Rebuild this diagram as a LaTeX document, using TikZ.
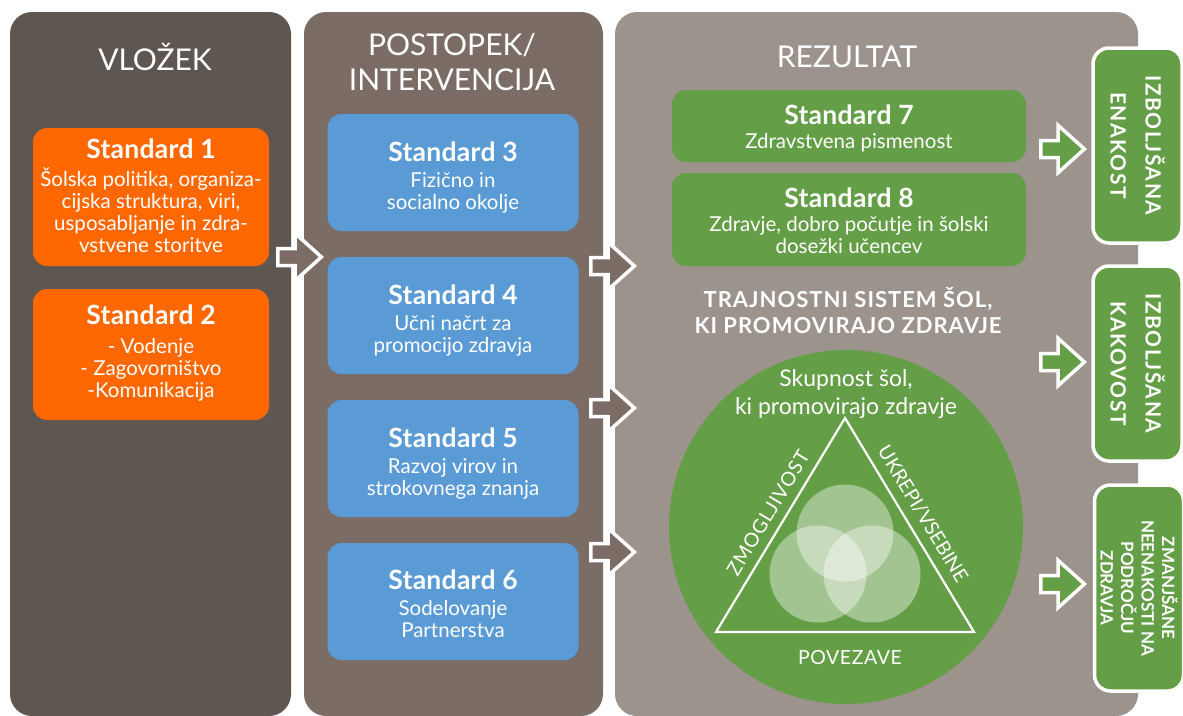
\documentclass[tikz,border=0pt]{standalone}
\usepackage{fontspec}
\setmainfont{Lato}
\usetikzlibrary{shapes.arrows}

\definecolor{panelA}{RGB}{94,86,81}
\definecolor{panelB}{RGB}{123,108,101}
\definecolor{panelC}{RGB}{156,147,141}
\definecolor{stdorange}{RGB}{255,104,0}
\definecolor{stdblue}{RGB}{91,155,213}
\definecolor{stdgreen}{RGB}{100,158,70}

\newcommand\boxhead[1]{{\fontsize{26.5}{28}\selectfont\bfseries\addfontfeatures{LetterSpace=1}#1}}

\tikzset{
  panel/.style={rounded corners=22pt, inner sep=0pt, draw=none},
  coltitle/.style={text=white, font=\fontsize{30}{36}\selectfont, align=center},
  stdbox/.style={rounded corners=14pt, inner sep=0pt},
  boxtext/.style={text=white, align=center, inner sep=0pt,
    font=\fontsize{20.5}{22}\selectfont},
  blockarr/.style={single arrow, draw=white, line width=3.5pt, inner xsep=0pt,
    inner ysep=6.75pt, minimum height=43.5pt, single arrow head extend=15.25pt,
    single arrow tip angle=84, line join=miter, anchor=tip},
  outbox/.style={rounded corners=16pt, draw=white, line width=3.5pt, fill=stdgreen,
    text=white, align=center, inner sep=0pt, rotate=-90},
  ringtext/.style={text=white, font=\fontsize{19.5}{23}\selectfont},
}

\begin{document}
\begin{tikzpicture}[x=1pt, y=-1pt]
\useasboundingbox (0,0) rectangle (1183,715);
\clip (0,0) rectangle (1183,715);
\fill[white] (0,0) rectangle (1183,715);

% three column panels
\node[panel, fill=panelA, minimum width=281pt, minimum height=704pt] (input) at (150.5,364) {};
\node[panel, fill=panelB, minimum width=299pt, minimum height=704pt] (process) at (453.5,364) {};
\node[panel, fill=panelC, minimum width=523pt, minimum height=704pt] (result) at (876.5,364) {};

% column titles
\node[coltitle] (tin) at (155,57) {VLOŽEK};
\node[coltitle, font=\fontsize{30}{35}\selectfont] (tproc) at (452,62) {POSTOPEK/\\INTERVENCIJA};
\node[coltitle] (tres) at (847,57) {REZULTAT};

% input standards
\node[stdbox, fill=stdorange, minimum width=236pt, minimum height=138pt] (s1) at (151,197) {};
\node[boxtext] (s1t) at ([yshift=1pt]s1.center)
  {\boxhead{Standard 1}\\[6pt]Šolska politika, organiza-\\cijska struktura, viri,\\usposabljanje in zdra-\\vstvene storitve};
\node[stdbox, fill=stdorange, minimum width=236pt, minimum height=131pt] (s2) at (151,354.5) {};
\node[boxtext] (s2t) at ([yshift=1pt]s2.center)
  {\boxhead{Standard 2}\\[7pt]- Vodenje\\- Zagovorništvo\\-Komunikacija};

% process standards
\node[stdbox, fill=stdblue, minimum width=251pt, minimum height=117pt] (s3) at (453,172.5) {};
\node[boxtext] (s3t) at ([yshift=-5pt]s3.center)
  {\boxhead{Standard 3}\\[4pt]Fizično in\\socialno okolje};
\node[stdbox, fill=stdblue, minimum width=251pt, minimum height=117pt] (s4) at (453,315.5) {};
\node[boxtext] (s4t) at ([yshift=-5pt]s4.center)
  {\boxhead{Standard 4}\\[4pt]Učni načrt za\\promocijo zdravja};
\node[stdbox, fill=stdblue, minimum width=251pt, minimum height=117pt] (s5) at (453,458.5) {};
\node[boxtext] (s5t) at ([yshift=-5pt]s5.center)
  {\boxhead{Standard 5}\\[4pt]Razvoj virov in\\strokovnega znanja};
\node[stdbox, fill=stdblue, minimum width=251pt, minimum height=117pt] (s6) at (453,601.5) {};
\node[boxtext] (s6t) at ([yshift=-2.5pt]s6.center)
  {\boxhead{Standard 6}\\[4pt]Sodelovanje\\Partnerstva};

% result standards
\node[stdbox, fill=stdgreen, minimum width=354pt, minimum height=72pt] (s7) at (849,126) {};
\node[boxtext] (s7t) at ([yshift=-2.5pt]s7.center)
  {\boxhead{Standard 7}\\[2pt]Zdravstvena pismenost};
\node[stdbox, fill=stdgreen, minimum width=354pt, minimum height=93pt] (s8) at (849,219.5) {};
\node[boxtext] (s8t) at ([yshift=-1pt]s8.center)
  {\boxhead{Standard 8}\\[2pt]Zdravje, dobro počutje in šolski\\dosežki učencev};

\node[text=white, align=center, font=\fontsize{22}{26}\selectfont\bfseries\addfontfeatures{LetterSpace=4.5}] (system) at (848,311)
  {TRAJNOSTNI SISTEM ŠOL,\\KI PROMOVIRAJO ZDRAVJE};

% community of health promoting schools
\node[circle, fill=stdgreen, minimum size=354pt, inner sep=0pt] (community) at (846,527) {};
\node[text=white, align=center, font=\fontsize{23}{28}\selectfont] (commtitle) at (846,394)
  {Skupnost šol,\\ki promovirajo zdravje};
\coordinate (apex) at (845,418);
\coordinate (bl) at (716,632);
\coordinate (br) at (974,632);
\fill[white, opacity=0.4] (845,533) circle (48.5);
\fill[white, opacity=0.4] (818,574) circle (48.5);
\fill[white, opacity=0.4] (872,574) circle (48.5);
\draw[white, line width=2.2pt, line join=miter] (apex) -- (bl) -- (br) -- cycle;
\node[ringtext, rotate=59, font=\fontsize{19.5}{23}\selectfont\addfontfeatures{LetterSpace=4}] (capacity) at (768,513) {ZMOGLJIVOST};
\node[ringtext, rotate=-59] (actions) at (923,514) {UKREPI/VSEBINE};
\node[ringtext, font=\fontsize{19.5}{23}\selectfont\addfontfeatures{LetterSpace=3}] (links) at (850,657) {POVEZAVE};

% outcome boxes
\node[outbox, minimum width=195pt, minimum height=89pt, font=\fontsize{21}{35}\selectfont\bfseries\addfontfeatures{LetterSpace=7}] (o1) at (1137.5,145.5)
  {IZBOLJŠANA\\ENAKOST};
\node[outbox, minimum width=195pt, minimum height=89pt, font=\fontsize{21}{35}\selectfont\bfseries\addfontfeatures{LetterSpace=7}] (o2) at (1137.5,363.5)
  {IZBOLJŠANA\\KAKOVOST};
\node[outbox, minimum width=206pt, minimum height=89pt, font=\fontsize{17}{20.5}\selectfont\bfseries] (o3) at (1139,588)
  {ZMANJŠANE\\NEENAKOSTI NA\\PODROČJU\\ZDRAVJA};

% block arrows between the stages
\node[blockarr, fill=panelB] (a12) at (324,257) {};
\node[blockarr, fill=panelB] (a23a) at (637,266) {};
\node[blockarr, fill=panelB] (a23b) at (637,408) {};
\node[blockarr, fill=panelB] (a23c) at (637,552) {};
\node[blockarr, fill=stdgreen] (a3o1) at (1087,149) {};
\node[blockarr, fill=stdgreen] (a3o2) at (1087,362) {};
\node[blockarr, fill=stdgreen] (a3o3) at (1087,584) {};
\end{tikzpicture}
\end{document}
